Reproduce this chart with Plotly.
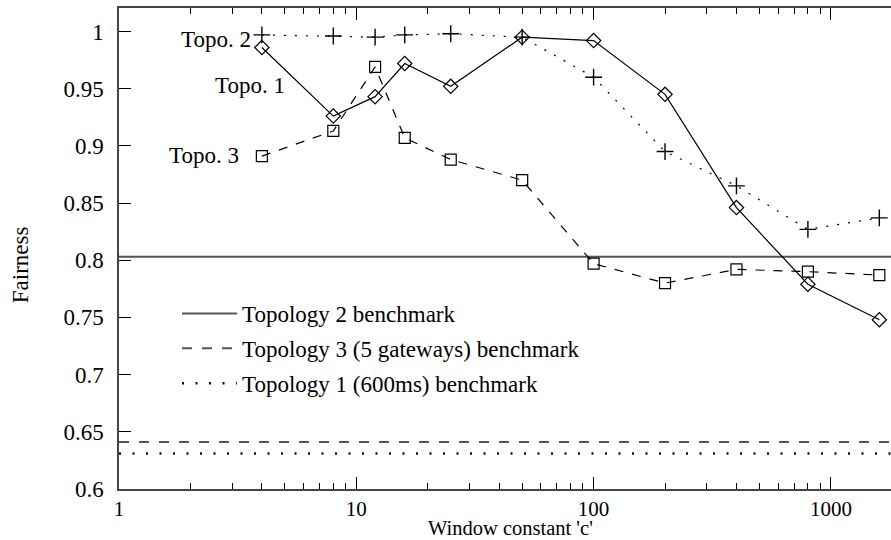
import math
import plotly.graph_objects as go

# ---- data ----
window_c = [4, 8, 12, 16, 25, 50, 100, 200, 400, 800, 1600]
topo1 = [0.986, 0.926, 0.943, 0.972, 0.952, 0.995, 0.992, 0.945, 0.846, 0.779, 0.748]
topo2 = [0.997, 0.996, 0.995, 0.997, 0.998, 0.995, 0.960, 0.895, 0.865, 0.827, 0.837]
topo3 = [0.891, 0.913, 0.969, 0.907, 0.888, 0.870, 0.797, 0.780, 0.792, 0.790, 0.787]

bench_x = [1, 2000]
bench_names = ["Topology 2 benchmark", "Topology 3 (5 gateways) benchmark", "Topology 1 (600ms) benchmark"]
bench_values = [0.803, 0.641, 0.631]

x_tick_vals = [1, 10, 100, 1000]
x_tick_text = ["1", "10", "100", "1000"]
y_tick_vals = [0.6, 0.65, 0.7, 0.75, 0.8, 0.85, 0.9, 0.95, 1.0]
y_tick_text = ["0.6", "0.65", "0.7", "0.75", "0.8", "0.85", "0.9", "0.95", "1"]

series_labels = ["Topo. 1", "Topo. 2", "Topo. 3"]
label_x = [5.08, 3.67, 3.28]
label_y = [0.9525, 0.9927, 0.8913]

FONT = "Liberation Serif"
FS = 23

fig = go.Figure()

# benchmark lines (legend)
bench_styles = [
    dict(color="#555555", width=2, dash="solid"),
    dict(color="#555555", width=2, dash="10px,10px"),
    dict(color="#111111", width=2.5, dash="2px,11.5px"),
]
for i, (name, val) in enumerate(zip(bench_names, bench_values)):
    fig.add_trace(go.Scatter(
        x=bench_x, y=[val, val], mode="lines", name=name,
        line=bench_styles[i], legendgroup=f"g{i}", showlegend=True,
        hoverinfo="skip",
    ))

# data series
fig.add_trace(go.Scatter(
    x=window_c, y=topo1, mode="lines+markers", showlegend=False,
    line=dict(color="black", width=1.2, dash="solid"),
    marker=dict(symbol="diamond-open", size=11, color="black", line=dict(width=1.2, color="black")),
))
fig.add_trace(go.Scatter(
    x=window_c, y=topo2, mode="lines+markers", showlegend=False,
    line=dict(color="black", width=1.2, dash="2px,9px"),
    marker=dict(symbol="cross-thin-open", size=12, color="black", line=dict(width=1.4, color="black")),
))
fig.add_trace(go.Scatter(
    x=window_c, y=topo3, mode="lines+markers", showlegend=False,
    line=dict(color="black", width=1.2, dash="9px,9px"),
    marker=dict(symbol="square-open", size=11, color="black", line=dict(width=1.2, color="black")),
))

annotations = []
for t, lx, ly in zip(series_labels, label_x, label_y):
    annotations.append(dict(
        x=math.log10(lx), y=ly, xref="x", yref="y", text=t, showarrow=False,
        xanchor="right", yanchor="middle", font=dict(family=FONT, size=FS, color="black"),
    ))
annotations.append(dict(
    x=(510 - 119) / 772, y=-(540 - 489) / 481, xref="paper", yref="paper", text="Window constant 'c'",
    showarrow=False, xanchor="center", yanchor="bottom", borderpad=0,
    font=dict(family=FONT, size=20.5, color="black"),
))
annotations.append(dict(
    x=-0.128, y=(489 - 265) / 481, xref="paper", yref="paper", text="Fairness",
    showarrow=False, xanchor="center", yanchor="middle", textangle=-90,
    font=dict(family=FONT, size=FS, color="black"),
))

fig.update_layout(
    width=891, height=540,
    margin=dict(l=119, r=0, t=8, b=51),
    paper_bgcolor="white", plot_bgcolor="white",
    font=dict(family=FONT, size=FS, color="black"),
    showlegend=True,
    legend=dict(
        x=(177 - 119) / 772, y=(489 - 292) / 481, xanchor="left", yanchor="top",
        bgcolor="rgba(0,0,0,0)", borderwidth=0, itemwidth=55,
        traceorder="grouped", tracegroupgap=2,
        font=dict(family=FONT, size=FS, color="black"),
    ),
    annotations=annotations,
    xaxis=dict(
        type="log", range=[0, 3.2533],
        tickvals=x_tick_vals, ticktext=x_tick_text,
        ticks="inside", ticklen=12, tickwidth=1, tickcolor="black",
        showline=True, linecolor="#444444", linewidth=1.5, mirror="ticks",
        showgrid=False, zeroline=False,
        ticklabelstandoff=0,
        minor=dict(ticks="inside", ticklen=6, tickwidth=1, tickcolor="black", dtick="D1", showgrid=False),
        tickfont=dict(family=FONT, size=21, color="black"),
    ),
    yaxis=dict(
        range=[0.6, 1.0205],
        tickvals=y_tick_vals, ticktext=y_tick_text,
        ticks="inside", ticklen=12, tickwidth=1, tickcolor="black",
        showline=True, linecolor="#444444", linewidth=1.5, mirror=False,
        showgrid=False, zeroline=False,
        ticklabelstandoff=9,
        tickfont=dict(family=FONT, size=FS, color="black"),
    ),
)

fig.write_html("out.html")
